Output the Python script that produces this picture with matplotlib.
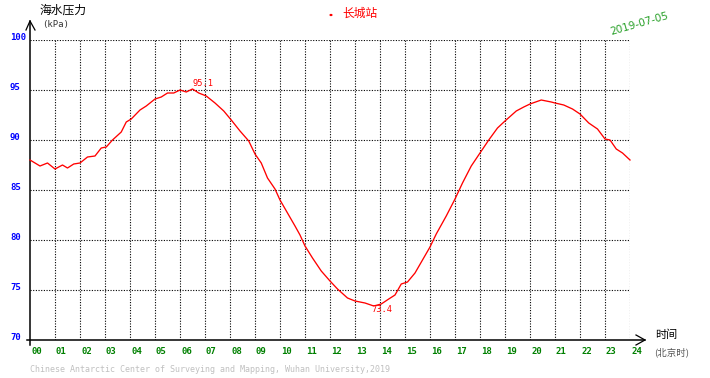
import matplotlib
matplotlib.use("Agg")
import matplotlib.pyplot as plt
import matplotlib.transforms as mtransforms
import numpy as np

hours = [0.0, 0.2, 0.4, 0.7, 1.0, 1.3, 1.5, 1.75, 2.0, 2.3, 2.6, 2.85, 3.05, 3.3, 3.65, 3.85,
         4.05, 4.4, 4.65, 5.0, 5.25, 5.5, 5.75, 6.0, 6.25, 6.5, 6.75, 7.05, 7.4, 7.75, 8.05,
         8.4, 8.75, 9.0, 9.25, 9.5, 9.8, 10.0, 10.3, 10.6, 10.8, 11.0, 11.3, 11.65, 12.0,
         12.3, 12.7, 13.0, 13.4, 13.75, 14.05, 14.35, 14.6, 14.85, 15.1, 15.4, 15.7, 16.0,
         16.25, 16.65, 17.0, 17.3, 17.65, 18.0, 18.35, 18.7, 19.0, 19.45, 19.75, 20.0, 20.45,
         20.85, 21.0, 21.35, 21.7, 22.0, 22.35, 22.7, 23.0, 23.2, 23.45, 23.7, 24.0]
pressure = [88.0, 87.7, 87.4, 87.7, 87.1, 87.5, 87.2, 87.6, 87.7, 88.3, 88.4, 89.2, 89.3, 90.0,
            90.8, 91.8, 92.1, 93.0, 93.4, 94.1, 94.3, 94.7, 94.7, 95.0, 94.8, 95.1, 94.7, 94.4,
            93.7, 92.9, 92.0, 90.9, 89.9, 88.6, 87.7, 86.2, 85.1, 84.0, 82.7, 81.4, 80.5, 79.4,
            78.2, 76.9, 75.9, 75.1, 74.2, 73.9, 73.7, 73.4, 73.6, 74.1, 74.5, 75.6, 75.8, 76.7,
            78.0, 79.3, 80.6, 82.4, 84.1, 85.7, 87.4, 88.7, 90.0, 91.2, 91.9, 92.9, 93.3, 93.6,
            94.0, 93.8, 93.7, 93.5, 93.1, 92.6, 91.7, 91.1, 90.1, 90.0, 89.1, 88.7, 88.0]

x_ticks = list(range(0, 25))
x_labels = [f"{h:02d}" for h in x_ticks]
y_ticks = [70, 75, 80, 85, 90, 95, 100]
y_labels = [str(v) for v in y_ticks]

title = "长城站"
ylabel = "海水压力"
yunit = "(kPa)"
xlabel = "时间"
xunit = "(北京时)"
date_text = "2019-07-05"
footer = "Chinese Antarctic Center of Surveying and Mapping, Wuhan University,2019"

W, H = 710, 378
fig = plt.figure(figsize=(W / 100, H / 100), dpi=100)
fig.patch.set_facecolor("white")
ax = fig.add_axes([30 / W, (H - 340) / H, 600 / W, 300 / H])
ax.set_xlim(0, 24)
ax.set_ylim(70, 100)
for s in ax.spines.values():
    s.set_visible(False)
ax.set_xticks([])
ax.set_yticks([])
ax.patch.set_alpha(0)

cjk = ["Noto Sans CJK SC", "DejaVu Sans"]
mono = "DejaVu Sans Mono"

# grid
ax.vlines(x_ticks[1:], 70, 100, colors="black", linewidth=0.8, linestyles=(0, (1, 1.4)))
ax.hlines(y_ticks[1:], 0, 24, colors="black", linewidth=0.8, linestyles=(0, (1, 1.4)))

# axes with arrows
ax.plot([0, 0], [69.5, 101.9], color="black", lw=1.1, clip_on=False)
ax.plot([-0.16, 0, 0.2], [101.0, 101.9, 101.0], color="black", lw=0.9, clip_on=False)
ax.plot([-0.12, 24.6], [70, 70], color="black", lw=1.1, clip_on=False)
ax.plot([24.24, 24.6, 24.24], [70.5, 70, 69.5], color="black", lw=0.9, clip_on=False)

# data line
ax.plot(hours, pressure, color="#ff0000", lw=0.95, clip_on=False)

# max/min labels
imax = int(np.argmax(pressure))
imin = int(np.argmin(pressure))
ax.annotate(f"{pressure[imax]:.1f}", xy=(hours[imax], pressure[imax]), xytext=(0, 1),
            textcoords="offset pixels", ha="left", va="bottom", color="#ff0000",
            fontsize=6.3, family=mono)
ax.annotate(f"{pressure[imin]:.1f}", xy=(hours[imin], pressure[imin]), xytext=(-2, 1),
            textcoords="offset pixels", ha="left", va="top", color="#ff0000",
            fontsize=6.3, family=mono)

# tick labels
ytr = mtransforms.offset_copy(ax.get_yaxis_transform(), fig=fig, x=-20, y=2, units="dots")
for v, lab in zip(y_ticks, y_labels):
    ax.text(0, v, lab, transform=ytr, ha="left", va="center", color="#0000ff",
            fontsize=6.5, family=mono, fontweight="bold")
xtr = mtransforms.offset_copy(ax.get_xaxis_transform(), fig=fig, x=1, y=-12, units="dots")
for h, lab in zip(x_ticks, x_labels):
    ax.text(h, 0, lab, transform=xtr, ha="left", va="center", color="#008000",
            fontsize=6.5, family=mono, fontweight="bold")

def fx(px):
    return px / W

def fy(py):
    return 1 - py / H

fig.text(fx(40), fy(10), ylabel, family=cjk, fontsize=8.5, ha="left", va="center", color="black")
fig.text(fx(42), fy(25), yunit, family=mono, fontsize=6.5, ha="left", va="center", color="#333333")
fig.text(fx(342), fy(13), title, family=cjk, fontsize=8.5, ha="left", va="center", color="#ff0000")
fig.patches.append(plt.Circle((fx(331), fy(15)), 0.0012, transform=fig.transFigure,
                              color="#ff0000"))
fig.text(fx(639), fy(24), date_text, family="DejaVu Sans", fontsize=7.5, rotation=16,
         ha="center", va="center", color="#28a028", rotation_mode="anchor")
fig.text(fx(655), fy(335), xlabel, family=cjk, fontsize=8, ha="left", va="center", color="black")
fig.text(fx(654), fy(352), xunit, family=cjk, fontsize=6.8, ha="left", va="center", color="#555555")
fig.text(fx(30), fy(370), footer, family=mono, fontsize=6, ha="left", va="center", color="#c0c0c0")

fig.savefig("out.png", dpi=100, facecolor="white")
